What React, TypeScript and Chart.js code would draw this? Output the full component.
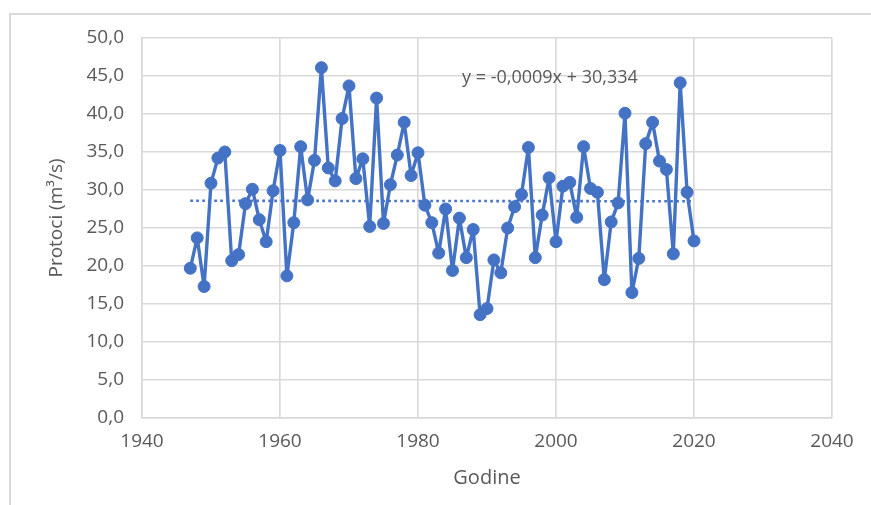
import React, { useEffect, useRef } from "react";
import { Chart, registerables } from "chart.js";

Chart.register(...registerables);

const YEARS = [
  1947, 1948, 1949, 1950, 1951, 1952, 1953, 1954, 1955, 1956,
  1957, 1958, 1959, 1960, 1961, 1962, 1963, 1964, 1965, 1966,
  1967, 1968, 1969, 1970, 1971, 1972, 1973, 1974, 1975, 1976,
  1977, 1978, 1979, 1980, 1981, 1982, 1983, 1984, 1985, 1986,
  1987, 1988, 1989, 1990, 1991, 1992, 1993, 1994, 1995, 1996,
  1997, 1998, 1999, 2000, 2001, 2002, 2003, 2004, 2005, 2006,
  2007, 2008, 2009, 2010, 2011, 2012, 2013, 2014, 2015, 2016,
  2017, 2018, 2019, 2020,
];

const FLOWS = [
  19.7, 23.7, 17.3, 30.9, 34.2, 35.0, 20.7, 21.5, 28.2, 30.1,
  26.1, 23.2, 29.9, 35.2, 18.7, 25.7, 35.7, 28.7, 33.9, 46.1,
  32.9, 31.2, 39.4, 43.7, 31.5, 34.1, 25.2, 42.1, 25.6, 30.7,
  34.6, 38.9, 31.9, 34.9, 28.0, 25.7, 21.7, 27.5, 19.4, 26.3,
  21.1, 24.8, 13.6, 14.4, 20.8, 19.1, 25.0, 27.8, 29.4, 35.6,
  21.1, 26.7, 31.6, 23.2, 30.5, 31.0, 26.4, 35.7, 30.2, 29.7,
  18.2, 25.8, 28.3, 40.1, 16.5, 21.0, 36.1, 38.9, 33.8, 32.7,
  21.6, 44.1, 29.7, 23.3,
];

const X_TICKS = [1940, 1960, 1980, 2000, 2020, 2040];
const Y_TICKS = [0, 5, 10, 15, 20, 25, 30, 35, 40, 45, 50];

const TREND_SLOPE = -0.0009;
const TREND_INTERCEPT = 30.334;
const TREND_LABEL = "y = -0,0009x + 30,334";

const X_TITLE = "Godine";
const Y_TITLE = "Protoci (m³/s)";

const BLUE = "#4472C4";
const TEXT = "#595959";
const GRID = "#d9d9d9";
const FONT = "'Open Sans', 'DejaVu Sans', sans-serif";

const decorPlugin = {
  id: "decor",
  beforeDraw(chart: any) {
    const ctx = chart.ctx;
    ctx.save();
    ctx.strokeStyle = GRID;
    ctx.lineWidth = 2;
    ctx.beginPath();
    ctx.moveTo(10, chart.height);
    ctx.lineTo(10, 14);
    ctx.lineTo(chart.width, 14);
    ctx.stroke();
    ctx.restore();
  },
  afterDraw(chart: any) {
    const ctx = chart.ctx;
    const area = chart.chartArea;
    ctx.save();
    ctx.fillStyle = TEXT;
    ctx.font = `19px ${FONT}`;
    ctx.textAlign = "center";
    ctx.textBaseline = "middle";
    ctx.translate(57, (area.top + area.bottom) / 2 - 10);
    ctx.rotate(-Math.PI / 2);
    ctx.fillText(Y_TITLE, 0, 0);
    ctx.restore();
    ctx.save();
    ctx.fillStyle = TEXT;
    ctx.font = `18px ${FONT}`;
    ctx.textAlign = "left";
    ctx.textBaseline = "middle";
    ctx.fillText(TREND_LABEL, area.left + 320, area.top + 40);
    ctx.restore();
  },
};

export default function App() {
  const ref = useRef<HTMLCanvasElement | null>(null);

  useEffect(() => {
    if (!ref.current) return;
    const points = YEARS.map((y, i) => ({ x: y, y: FLOWS[i] }));
    const first = YEARS[0];
    const last = YEARS[YEARS.length - 1];
    const trend = [
      { x: first, y: TREND_SLOPE * first + TREND_INTERCEPT },
      { x: last, y: TREND_SLOPE * last + TREND_INTERCEPT },
    ];

    const chart = new Chart(ref.current, {
      type: "scatter",
      data: {
        datasets: [
          {
            data: points,
            showLine: true,
            borderColor: BLUE,
            borderWidth: 3.4,
            borderJoinStyle: "round",
            borderCapStyle: "round",
            backgroundColor: BLUE,
            pointBackgroundColor: BLUE,
            pointBorderColor: BLUE,
            pointBorderWidth: 1,
            pointRadius: 6,
            tension: 0,
          },
          {
            data: trend,
            showLine: true,
            borderColor: BLUE,
            borderWidth: 2.6,
            borderDash: [2.6, 3.4],
            pointRadius: 0,
            tension: 0,
          },
        ],
      },
      options: {
        animation: false,
        responsive: false,
        devicePixelRatio: 1,
        layout: { padding: { left: 0, top: 38, right: 39, bottom: 0 } },
        plugins: {
          legend: { display: false },
          tooltip: { enabled: false },
        },
        scales: {
          x: {
            type: "linear",
            min: X_TICKS[0],
            max: X_TICKS[X_TICKS.length - 1],
            afterBuildTicks: (s: any) => {
              s.ticks = X_TICKS.map((v) => ({ value: v }));
            },
            afterFit: (s: any) => {
              s.height = 87;
            },
            ticks: {
              color: TEXT,
              font: { family: FONT, size: 19 },
              padding: 12,
              maxRotation: 0,
              callback: (v: any) => String(v),
            },
            grid: { color: GRID, lineWidth: 1.6, drawTicks: false },
            border: { color: GRID, width: 1.6 },
            title: {
              display: true,
              text: X_TITLE,
              color: TEXT,
              font: { family: FONT, size: 20 },
              padding: { top: 0, bottom: 15 },
            },
          },
          y: {
            type: "linear",
            min: Y_TICKS[0],
            max: Y_TICKS[Y_TICKS.length - 1],
            afterBuildTicks: (s: any) => {
              s.ticks = Y_TICKS.map((v) => ({ value: v }));
            },
            afterFit: (s: any) => {
              s.width = 142;
            },
            ticks: {
              color: TEXT,
              font: { family: FONT, size: 19 },
              padding: 18,
              callback: (v: any) => Number(v).toFixed(1).replace(".", ","),
            },
            grid: { color: GRID, lineWidth: 1.6, drawTicks: false },
            border: { color: GRID, width: 1.6 },
          },
        },
      },
      plugins: [decorPlugin],
    });
    return () => chart.destroy();
  }, []);

  return (
    <div
      style={{
        position: "absolute",
        left: 0,
        top: 0,
        width: 871,
        height: 505,
        background: "#ffffff",
      }}
    >
      <canvas ref={ref} width={871} height={505} />
    </div>
  );
}
